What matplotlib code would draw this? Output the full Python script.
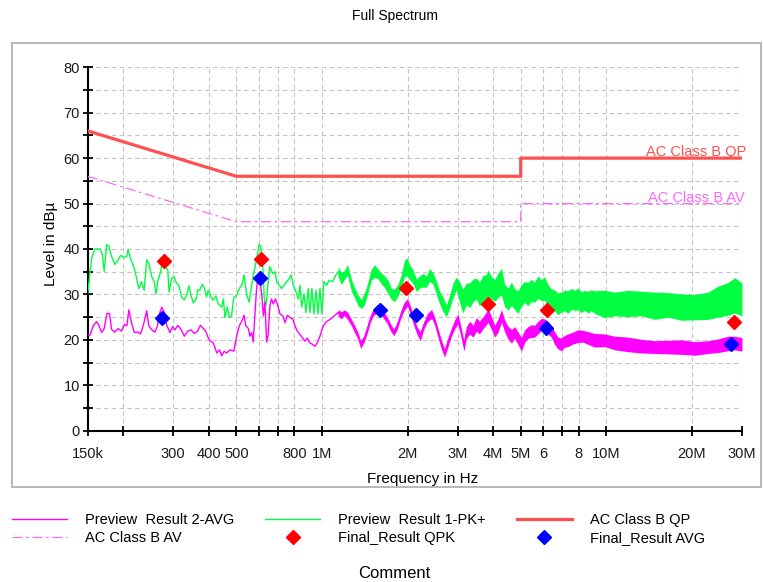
import matplotlib.pyplot as plt
import matplotlib.ticker as mticker
import numpy as np
from matplotlib.patches import Rectangle

plt.rcParams['font.family'] = ['Liberation Sans', 'DejaVu Sans']

# Preview Result 1-PK+ : single sweep up to ~1.1 MHz (MHz / dBuV)
pk_sweep_mhz = [0.150, 0.155, 0.159, 0.166, 0.169, 0.1715, 0.175, 0.178, 0.182, 0.187,
                0.192, 0.196, 0.202, 0.206, 0.208, 0.213, 0.219, 0.223, 0.227, 0.232,
                0.237, 0.242, 0.246, 0.252, 0.257, 0.261, 0.265, 0.271, 0.274, 0.280,
                0.287, 0.290, 0.296, 0.302, 0.308, 0.314, 0.321, 0.328, 0.334, 0.341,
                0.346, 0.353, 0.361, 0.366, 0.372, 0.379, 0.385, 0.393, 0.398, 0.404,
                0.413, 0.424, 0.432, 0.444, 0.450, 0.456, 0.465, 0.472, 0.481, 0.490,
                0.501, 0.512, 0.522, 0.532, 0.544, 0.555, 0.566, 0.577, 0.589, 0.601,
                0.609, 0.619, 0.627, 0.636, 0.647, 0.656, 0.671, 0.684, 0.693, 0.708,
                0.722, 0.736, 0.752, 0.768, 0.779, 0.793, 0.811, 0.826, 0.837, 0.849,
                0.865, 0.878, 0.895, 0.907, 0.922, 0.937, 0.953, 0.968, 0.984, 1.000,
                1.016, 1.038, 1.060, 1.090, 1.120]
pk_sweep_db = [30.1, 38.0, 40.0, 40.0, 38.7, 35.1, 41.0, 40.6, 38.4, 36.6,
               37.6, 38.6, 38.1, 38.4, 39.9, 37.6, 35.7, 33.5, 31.3, 32.8,
               30.9, 37.6, 36.9, 33.9, 32.8, 30.1, 33.1, 35.0, 37.2, 36.1,
               35.4, 30.5, 33.5, 33.9, 32.4, 32.0, 29.4, 28.8, 29.8, 31.9,
               29.8, 28.1, 29.0, 31.0, 30.9, 32.2, 31.6, 29.4, 30.9, 30.1,
               28.7, 29.6, 27.9, 27.2, 29.0, 24.9, 27.2, 24.9, 25.3, 29.4,
               29.8, 31.3, 32.0, 34.3, 29.8, 28.3, 32.0, 35.0, 37.6, 41.0,
               40.6, 36.6, 29.0, 27.5, 32.8, 36.1, 34.6, 35.0, 32.8, 32.0,
               31.3, 32.0, 32.8, 33.5, 34.3, 32.0, 30.5, 29.0, 32.0, 27.2,
               30.1, 26.0, 31.3, 26.0, 31.3, 25.7, 30.9, 25.7, 31.3, 25.7,
               32.8, 32.0, 33.1, 32.8, 34.3]

# PK+ above 1.1 MHz: centre of the noise band and its half height
pk_band_mhz = [1.14, 1.17, 1.20, 1.23, 1.27, 1.30, 1.34, 1.376, 1.41, 1.45,
               1.49, 1.53, 1.57, 1.62, 1.66, 1.71, 1.754, 1.80, 1.85, 1.90,
               1.95, 1.99, 2.03, 2.09, 2.15, 2.21, 2.27, 2.33, 2.39, 2.46,
               2.53, 2.59, 2.66, 2.74, 2.81, 2.89, 2.97, 3.05, 3.13, 3.22,
               3.31, 3.40, 3.49, 3.58, 3.68, 3.79, 3.84, 3.94, 4.05, 4.16,
               4.28, 4.39, 4.51, 4.64, 4.76, 4.89, 5.03, 5.16, 5.30, 5.45,
               5.60, 5.75, 5.91, 6.07, 6.23, 6.41, 6.58, 6.76, 6.95, 7.14,
               7.33, 7.54, 7.74, 7.95, 8.17, 8.39, 8.62, 8.86, 9.10, 9.87,
               10.7, 11.9, 13.3, 14.8, 16.5, 18.4, 20.5, 22.8, 24.7, 26.8,
               28.3, 30.0]
pk_band_db = [35.0, 33.5, 34.3, 35.4, 32.0, 30.5, 28.7, 27.9, 29.0, 31.3,
              34.3, 35.1, 34.6, 33.5, 32.8, 31.6, 30.1, 29.8, 30.9, 32.8,
              35.7, 36.1, 35.0, 33.9, 32.0, 32.8, 33.1, 32.8, 34.3, 33.5,
              31.3, 29.4, 27.9, 26.4, 28.3, 30.9, 32.4, 30.5, 28.5, 30.1,
              29.8, 30.9, 31.3, 30.1, 31.3, 31.8, 32.5, 31.5, 30.9, 32.0,
              32.8, 29.8, 29.0, 30.1, 29.0, 28.3, 29.8, 30.5, 30.1, 30.9,
              30.5, 31.6, 30.9, 31.3, 29.8, 29.0, 28.7, 27.9, 28.3, 28.7,
              28.3, 29.0, 28.7, 29.0, 28.3, 28.7, 28.3, 28.7, 28.3, 27.9,
              27.9, 28.0, 28.0, 27.5, 27.7, 27.2, 27.2, 27.5, 28.4, 29.0,
              29.8, 28.9]
pk_band_spread = [1.1, 1.3, 1.0, 1.2, 1.3, 1.1, 1.2, 1.0, 1.3, 1.1,
                  1.2, 1.4, 1.1, 1.2, 1.3, 1.5, 1.2, 1.4, 1.3, 1.5,
                  1.8, 2.0, 1.7, 1.5, 1.4, 1.3, 1.5, 1.2, 1.4, 1.3,
                  1.5, 1.4, 1.6, 1.3, 1.5, 1.6, 1.4, 2.3, 2.6, 2.4,
                  2.7, 2.5, 2.3, 2.6, 2.8, 2.6, 2.9, 2.5, 2.4, 2.7,
                  2.9, 2.5, 2.4, 2.6, 2.3, 2.5, 2.4, 2.3, 2.6, 2.4,
                  2.2, 2.5, 2.3, 2.6, 2.4, 2.2, 2.3, 2.4, 2.2, 2.3,
                  2.5, 2.3, 2.2, 2.4, 2.3, 2.2, 2.4, 2.3, 2.5, 3.0,
                  2.6, 2.9, 2.7, 3.0, 2.7, 2.9, 2.8, 3.0, 3.4, 3.6,
                  3.9, 3.6]

# Preview Result 2-AVG : single sweep up to ~1.1 MHz
avg_sweep_mhz = [0.150, 0.1528, 0.157, 0.1612, 0.1642, 0.1679, 0.1715, 0.1753, 0.1791, 0.182,
                 0.187, 0.192, 0.197, 0.202, 0.206, 0.2095, 0.214, 0.219, 0.225, 0.230,
                 0.2355, 0.242, 0.246, 0.252, 0.2585, 0.264, 0.268, 0.2733, 0.2791, 0.2845,
                 0.2922, 0.2986, 0.3043, 0.311, 0.3194, 0.3281, 0.3372, 0.3463, 0.3557, 0.3656,
                 0.3734, 0.383, 0.390, 0.3984, 0.404, 0.415, 0.427, 0.436, 0.444, 0.453,
                 0.462, 0.475, 0.490, 0.501, 0.512, 0.522, 0.532, 0.540, 0.551, 0.558,
                 0.566, 0.573, 0.581, 0.589, 0.596, 0.605, 0.614, 0.622, 0.630, 0.639,
                 0.647, 0.656, 0.665, 0.674, 0.687, 0.702, 0.712, 0.728, 0.742, 0.756,
                 0.772, 0.789, 0.804, 0.819, 0.837, 0.855, 0.871, 0.888, 0.907, 0.927,
                 0.945, 0.962, 0.984, 1.011, 1.038, 1.074, 1.111]
avg_sweep_db = [21.2, 21.0, 23.1, 24.0, 23.2, 21.6, 22.5, 25.8, 25.8, 22.3,
                21.7, 22.5, 21.9, 23.4, 23.1, 26.6, 23.7, 21.6, 21.7, 21.3,
                23.2, 26.4, 23.1, 22.2, 21.7, 23.1, 25.7, 27.2, 26.0, 23.2,
                21.6, 22.9, 22.2, 23.2, 22.3, 20.8, 21.9, 22.2, 21.4, 21.9,
                23.2, 22.5, 21.9, 20.4, 19.8, 19.3, 17.1, 17.8, 16.5, 17.5,
                17.1, 17.8, 17.5, 20.8, 23.1, 24.0, 25.4, 23.1, 22.5, 20.8,
                21.6, 19.5, 25.3, 31.3, 33.9, 33.5, 30.1, 25.3, 28.3, 19.5,
                21.2, 27.5, 29.0, 27.9, 29.0, 27.2, 25.7, 25.3, 23.8, 25.4,
                24.9, 24.6, 23.1, 21.9, 21.2, 20.4, 19.7, 20.4, 19.3, 19.0,
                18.6, 19.3, 20.8, 23.1, 24.0, 24.6, 25.4]

# AVG above 1.1 MHz: band centre and half height
avg_band_mhz = [1.14, 1.17, 1.20, 1.23, 1.27, 1.30, 1.34, 1.368, 1.405, 1.444,
                1.48, 1.52, 1.566, 1.61, 1.652, 1.70, 1.744, 1.79, 1.84, 1.89,
                1.94, 2.00, 2.05, 2.11, 2.165, 2.22, 2.28, 2.35, 2.43, 2.49,
                2.56, 2.63, 2.70, 2.77, 2.85, 2.93, 3.01, 3.09, 3.16, 3.22,
                3.31, 3.40, 3.49, 3.58, 3.73, 3.84, 3.94, 4.05, 4.16, 4.28,
                4.39, 4.51, 4.64, 4.76, 4.89, 5.03, 5.16, 5.30, 5.45, 5.60,
                5.75, 5.91, 6.07, 6.23, 6.41, 6.58, 6.76, 6.95, 7.14, 7.33,
                7.64, 7.95, 8.28, 8.62, 9.10, 9.87, 10.7, 11.9, 13.3, 14.8,
                16.5, 18.4, 20.5, 22.8, 24.7, 26.8, 28.3, 30.0]
avg_band_db = [26.0, 25.4, 26.0, 25.3, 23.8, 22.5, 20.8, 19.0, 20.1, 22.3,
               24.6, 26.2, 26.9, 26.4, 25.4, 24.2, 22.7, 21.6, 23.1, 25.3,
               27.2, 28.3, 26.4, 23.8, 21.9, 20.8, 23.1, 24.9, 25.7, 24.2,
               21.6, 19.0, 17.1, 19.3, 21.6, 23.4, 24.6, 21.6, 18.6, 21.6,
               22.7, 21.9, 23.4, 22.7, 24.2, 25.3, 23.8, 21.9, 23.1, 25.3,
               23.1, 21.6, 20.8, 21.6, 20.4, 19.0, 20.8, 21.6, 21.9, 21.9,
               22.7, 23.4, 23.1, 22.7, 21.9, 20.4, 19.3, 19.0, 19.7, 19.9,
               20.4, 20.8, 20.8, 20.4, 19.9, 19.9, 19.3, 19.0, 18.6, 18.4,
               18.4, 18.4, 18.1, 18.4, 18.7, 19.2, 19.3, 19.0]
avg_band_spread = [0.7, 0.8, 0.6, 0.8, 0.7, 0.8, 0.7, 0.9, 0.7, 0.8,
                   0.7, 0.8, 0.9, 0.7, 0.8, 0.7, 0.8, 0.7, 0.8, 0.7,
                   0.9, 0.8, 0.9, 0.8, 0.9, 1.0, 0.8, 0.9, 1.0, 0.8,
                   0.9, 1.0, 0.9, 1.0, 0.9, 1.0, 1.1, 1.0, 1.1, 1.3,
                   1.4, 1.3, 1.5, 1.4, 1.3, 1.5, 1.4, 1.3, 1.5, 1.4,
                   1.3, 1.4, 1.5, 1.3, 1.4, 1.5, 1.4, 1.3, 1.4, 1.3,
                   1.4, 1.3, 1.5, 1.4, 1.3, 1.4, 1.3, 1.4, 1.3, 1.4,
                   1.3, 1.4, 1.3, 1.4, 1.5, 1.4, 1.5, 1.6, 1.5, 1.4,
                   1.5, 1.6, 1.5, 1.4, 1.5, 1.6, 1.5, 1.5]

# EN 55032 class B limits
qp_limit_mhz = [0.15, 0.5, 5, 5, 30]
qp_limit_db = [66, 56, 56, 60, 60]
av_limit_mhz = [0.15, 0.5, 5, 5, 30]
av_limit_db = [56, 46, 46, 50, 50]

# final measurements
qpk_mhz = [0.279, 0.609, 1.97, 3.84, 6.20, 28.1]
qpk_db = [37.4, 37.8, 31.5, 27.8, 26.6, 24.0]
fin_avg_mhz = [0.273, 0.605, 1.60, 2.14, 6.12, 27.4]
fin_avg_db = [24.7, 33.7, 26.6, 25.5, 22.5, 19.0]

tick_mhz = [0.15, 0.2, 0.3, 0.4, 0.5, 0.6, 0.7, 0.8, 1, 2, 3, 4, 5, 6, 7, 8, 10, 20, 30]
tick_labels = ['150k', '', '300', '400', '500', '', '', '800', '1M', '2M', '3M', '4M',
               '5M', '6', '', '8', '10M', '20M', '30M']

GREEN = '#00ff40'
MAGENTA = '#ff00ff'
QP_RED = '#ff5050'
AV_PINK = '#ff66ff'
GRID = '#c4c4c4'

fig = plt.figure(figsize=(7.63, 5.82), dpi=100)
fig.patches.append(Rectangle((12 / 763, 1 - 487 / 582), 749 / 763, 444 / 582,
                             transform=fig.transFigure, fill=False,
                             ec='#b8b8b8', lw=1.4))
fig.text(395 / 763, 1 - 16 / 582, 'Full Spectrum', ha='center', va='center', fontsize=10)

ax = fig.add_axes([0.1149, 0.26, 0.8575, 0.6244])
ax.set_xscale('log')

# peak trace
pk_line, = ax.plot(pk_sweep_mhz + pk_band_mhz, pk_sweep_db + pk_band_db,
                   color=GREEN, lw=1.0, zorder=3)
f = np.array(pk_band_mhz)
v = np.array(pk_band_db)
s = np.array(pk_band_spread)
ax.fill_between(f, v - s, v + s, color=GREEN, lw=0, zorder=3)

# average trace
avg_line, = ax.plot(avg_sweep_mhz + avg_band_mhz, avg_sweep_db + avg_band_db,
                    color=MAGENTA, lw=1.0, zorder=3.5)
f = np.array(avg_band_mhz)
v = np.array(avg_band_db)
s = np.array(avg_band_spread)
ax.fill_between(f, v - s, v + s, color=MAGENTA, lw=0, zorder=3.5)

qp_line, = ax.plot(qp_limit_mhz, qp_limit_db, color=QP_RED, lw=2.3, zorder=4)
av_line, = ax.plot(av_limit_mhz, av_limit_db, color=AV_PINK, lw=0.9,
                   ls=(0, (8, 3, 2, 3)), zorder=4)

qpk_pts, = ax.plot(qpk_mhz, qpk_db, ls='none', marker='D', ms=7.6,
                   color='#ff0000', zorder=6)
avg_pts, = ax.plot(fin_avg_mhz, fin_avg_db, ls='none', marker='D', ms=7.6,
                   color='#0000ff', zorder=6)

ax.annotate('AC Class B QP', xy=(30, 60), xytext=(3, 1.5), textcoords='offset points',
            ha='right', va='baseline', color=QP_RED, fontsize=10.5)
ax.annotate('AC Class B AV', xy=(30, 50), xytext=(2, 1), textcoords='offset points',
            ha='right', va='baseline', color=AV_PINK, fontsize=10.5)

ax.set_xlim(0.15, 30)
ax.set_ylim(0, 80)
ax.set_xticks(tick_mhz)
ax.set_xticklabels(tick_labels)
ax.xaxis.set_minor_locator(mticker.NullLocator())
ax.set_yticks(range(0, 81, 10))
ax.set_yticks(range(5, 80, 10), minor=True)
ax.tick_params(which='both', direction='inout', length=7, width=1.3,
               color='black', labelsize=10.5, labelcolor='#1a1a1a')
ax.tick_params(axis='x', pad=8)
ax.tick_params(axis='y', pad=2)

ax.set_axisbelow(True)
ax.grid(True, which='major', axis='x', color=GRID, lw=0.8, ls=(0, (4, 3)))
ax.grid(True, which='both', axis='y', color=GRID, lw=0.8, ls=(0, (4, 3)))
for side in ('top', 'right'):
    ax.spines[side].set_visible(False)
for side in ('left', 'bottom'):
    ax.spines[side].set_linewidth(1.5)

ax.set_xlabel('Frequency in Hz', fontsize=11, va='center')
ax.xaxis.set_label_coords(0.5125, -0.132)
ax.set_ylabel('Level in dBµ', fontsize=11, va='center')
ax.yaxis.set_label_coords(-0.0560, 0.514)

handles = [avg_line, av_line, pk_line, qpk_pts, qp_line, avg_pts]
labels = ['Preview  Result 2-AVG', 'AC Class B AV', 'Preview  Result 1-PK+',
          'Final_Result QPK', 'AC Class B QP', 'Final_Result AVG']
fig.legend(handles, labels, ncol=3, loc='upper left', bbox_to_anchor=(12 / 763, 1 - 513 / 582),
           frameon=False, fontsize=10.5, handlelength=3.77, handletextpad=1.23,
           columnspacing=2.13, labelspacing=0.3, borderpad=0, borderaxespad=0,
           numpoints=1)

fig.text(394 / 763, 1 - 574 / 582, 'Comment', ha='center', va='center', fontsize=12)

fig.savefig('out.png', dpi=100)
